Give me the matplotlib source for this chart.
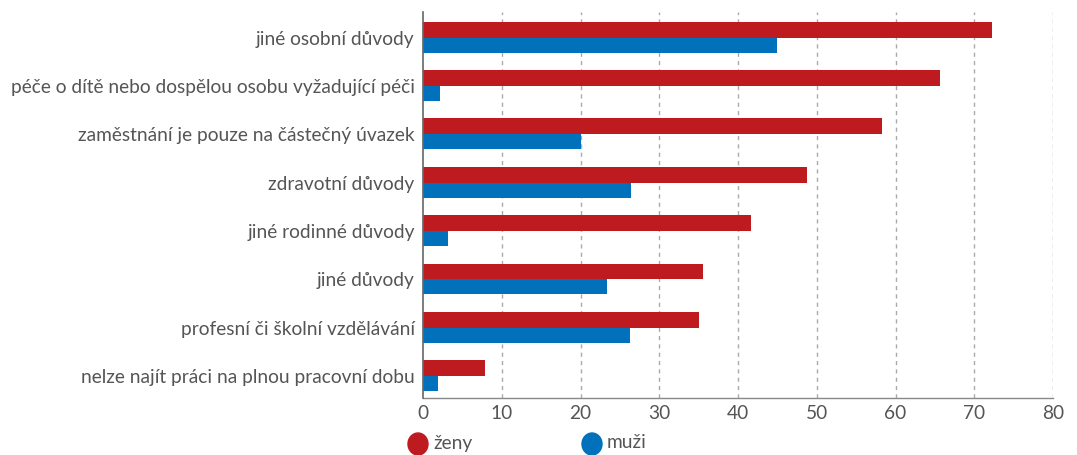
import matplotlib.pyplot as plt
from matplotlib.patches import Ellipse
import numpy as np

plt.rcParams['font.family'] = ['Lato', 'DejaVu Sans']

# data (top to bottom)
categories = ['jiné osobní důvody',
              'péče o dítě nebo dospělou osobu vyžadující péči',
              'zaměstnání je pouze na částečný úvazek',
              'zdravotní důvody',
              'jiné rodinné důvody',
              'jiné důvody',
              'profesní či školní vzdělávání',
              'nelze najít práci na plnou pracovní dobu']
zeny = [72.3, 65.7, 58.3, 48.7, 41.6, 35.5, 35.1, 7.9]
muzi = [44.9, 2.2, 20.0, 26.4, 3.2, 23.3, 26.3, 1.9]
series_names = ['ženy', 'muži']
xticks = [0, 10, 20, 30, 40, 50, 60, 70, 80]

red = '#BE1B21'
blue = '#0071BA'
txt = '#555555'

fig = plt.figure(figsize=(10.77, 4.55), dpi=100)
ax = fig.add_axes([0.3928, 0.1253, 0.585, 0.8483])

y = np.arange(len(categories))
ax.barh(y - 0.165, zeny, height=0.33, color=red, zorder=3)
ax.barh(y + 0.155, muzi, height=0.31, color=blue, zorder=3)

ax.set_xlim(0, 80)
ax.set_ylim(7.45, -0.53)
ax.set_xticks(xticks)
ax.set_yticks(y)
ax.set_yticklabels(categories)
ax.tick_params(axis='both', length=0, colors=txt, labelsize=13.8)
ax.tick_params(axis='y', pad=6)
ax.tick_params(axis='x', pad=5)

for x in xticks[1:]:
    ax.axvline(x, color='#aaaaaa', lw=1, ls=(0, (3, 3)), zorder=1)

for s in ['top', 'right']:
    ax.spines[s].set_visible(False)
ax.spines['left'].set_color('#666666')
ax.spines['left'].set_linewidth(1.2)
ax.spines['bottom'].set_color('#888888')
ax.spines['bottom'].set_linewidth(1)
ax.spines['left'].set_zorder(4)

# legend with circles
for cx, col, name in [(418, red, series_names[0]), (592, blue, series_names[1])]:
    fig.patches.append(Ellipse((cx / 1077, 1 - 444 / 455), 20 / 1077, 22 / 455,
                               color=col, transform=fig.transFigure))
    fig.text((cx + 15) / 1077, 1 - 443 / 455, name, color=txt, fontsize=13.8,
             va='center', ha='left')

fig.savefig('out.png', dpi=100)
